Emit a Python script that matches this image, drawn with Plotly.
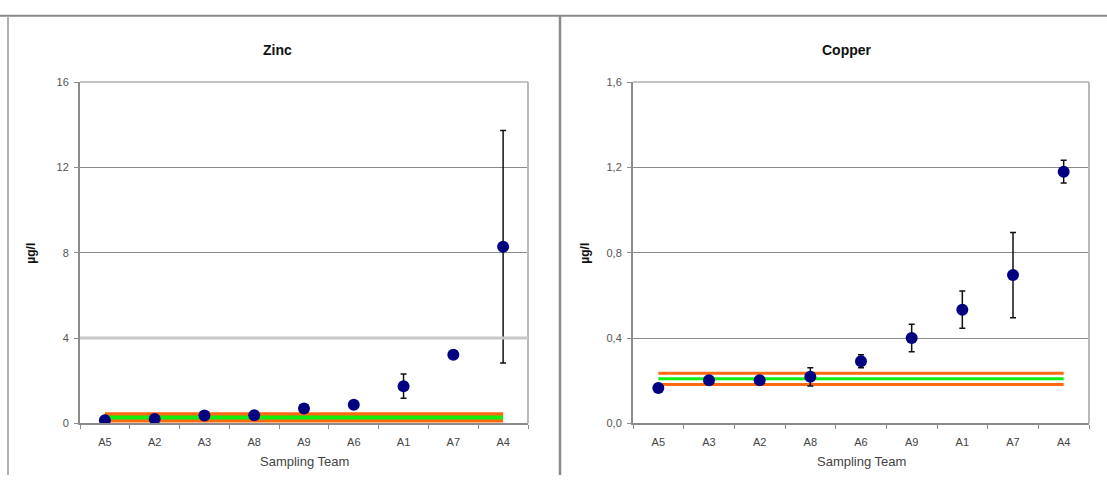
import plotly.graph_objects as go

W, H = 1107, 481

# ---- data ----
zinc_teams = ["A5", "A2", "A3", "A8", "A9", "A6", "A1", "A7", "A4"]
zinc_values = [0.14, 0.2, 0.37, 0.38, 0.7, 0.87, 1.74, 3.22, 8.28]
zinc_errors = [0.0, 0.0, 0.05, 0.05, 0.05, 0.05, 0.57, 0.1, 5.45]
zinc_limits_orange = [0.42, 0.13]
zinc_limit_green = 0.27
zinc_ticks = [0, 4, 8, 12, 16]
zinc_ticktext = ["0", "4", "8", "12", "16"]

copper_teams = ["A5", "A3", "A2", "A8", "A6", "A9", "A1", "A7", "A4"]
copper_values = [0.166, 0.202, 0.202, 0.218, 0.291, 0.40, 0.533, 0.695, 1.18]
copper_errors = [0.01, 0.01, 0.01, 0.043, 0.031, 0.065, 0.087, 0.2, 0.053]
copper_limits_orange = [0.235, 0.182]
copper_limit_green = 0.209
copper_ticks = [0, 0.4, 0.8, 1.2, 1.6]
copper_ticktext = ["0,0", "0,4", "0,8", "1,2", "1,6"]

FONT = "Arial, Liberation Sans, sans-serif"
NAVY = "#000080"
ORANGE = "#ff6a10"
GREEN = "#10ee10"
GRID = "#8a8a8a"
AXIS = "#8c8c8c"


def px_x(p):
    return p / W


def px_y(p):
    return 1 - p / H


fig = go.Figure()

panels = [
    dict(teams=zinc_teams, vals=zinc_values, errs=zinc_errors, orange=zinc_limits_orange,
         green=zinc_limit_green, ticks=zinc_ticks, ticktext=zinc_ticktext,
         xa="x", ya="y", xd=(80, 528), title="Zinc", tx=277, ytx=31, lw=4),
    dict(teams=copper_teams, vals=copper_values, errs=copper_errors, orange=copper_limits_orange,
         green=copper_limit_green, ticks=copper_ticks, ticktext=copper_ticktext,
         xa="x2", ya="y2", xd=(633, 1089), title="Copper", tx=847, ytx=585, lw=3),
]

top_px, bot_px = 78, 428

for i, p in enumerate(panels):
    span = [p["teams"][0], p["teams"][-1]]
    for v in p["orange"]:
        fig.add_trace(go.Scatter(x=span, y=[v, v], mode="lines",
                                 line=dict(color=ORANGE, width=p["lw"]),
                                 xaxis=p["xa"], yaxis=p["ya"], showlegend=False,
                                 hoverinfo="skip"))
    fig.add_trace(go.Scatter(x=span, y=[p["green"], p["green"]], mode="lines",
                             line=dict(color=GREEN, width=p["lw"]),
                             xaxis=p["xa"], yaxis=p["ya"], showlegend=False,
                             hoverinfo="skip"))
    fig.add_trace(go.Scatter(
        x=p["teams"], y=p["vals"], mode="markers",
        marker=dict(color=NAVY, size=12),
        error_y=dict(type="data", array=p["errs"], visible=True, color="#111111",
                     thickness=1.5, width=3),
        xaxis=p["xa"], yaxis=p["ya"], showlegend=False))

    xkey = "xaxis" if i == 0 else "xaxis2"
    ykey = "yaxis" if i == 0 else "yaxis2"
    fig.layout[xkey] = dict(
        domain=[px_x(p["xd"][0]), px_x(p["xd"][1])],
        anchor=p["ya"], type="category",
        categoryorder="array", categoryarray=p["teams"],
        range=[-0.5, len(p["teams"]) - 0.5],
        showline=True, linecolor=AXIS, linewidth=2,
        ticks="outside", tickson="boundaries", ticklen=4, tickcolor=AXIS,
        ticklabelstandoff=7,
        showgrid=False, zeroline=False,
        tickfont=dict(family=FONT, size=11, color="#444444"),
        fixedrange=True,
    )
    fig.layout[ykey] = dict(
        domain=[px_y(bot_px), px_y(top_px)],
        anchor=p["xa"],
        range=[p["ticks"][0], p["ticks"][-1]],
        tickvals=p["ticks"], ticktext=p["ticktext"],
        showline=True, linecolor=AXIS, linewidth=2,
        ticks="outside", ticklen=4, tickcolor=AXIS,
        ticklabelstandoff=3,
        showgrid=True, gridcolor=GRID, gridwidth=1,
        zeroline=False,
        tickfont=dict(family=FONT, size=11, color="#555555"),
        fixedrange=True,
    )
    # plot-area top and right borders (light grey)
    fig.add_shape(type="line", xref="paper", yref="paper",
                  x0=px_x(p["xd"][0]), x1=px_x(p["xd"][1]),
                  y0=px_y(top_px), y1=px_y(top_px),
                  line=dict(color="#c4c4c4", width=2))
    fig.add_shape(type="line", xref="paper", yref="paper",
                  x0=px_x(p["xd"][1]), x1=px_x(p["xd"][1]),
                  y0=px_y(top_px), y1=px_y(bot_px),
                  line=dict(color="#b8b8b8", width=2))
    # titles
    fig.add_annotation(text="<b>" + p["title"] + "</b>", xref="paper", yref="paper",
                       x=px_x(p["tx"]), y=px_y(45), showarrow=False,
                       xanchor="center", yanchor="middle",
                       font=dict(family=FONT, size=14, color="#111111"))
    fig.add_annotation(text="<b>µg/l</b>", xref="paper", yref="paper",
                       x=px_x(p["ytx"]), y=px_y(254), showarrow=False, textangle=-90,
                       xanchor="center", yanchor="middle",
                       font=dict(family=FONT, size=12, color="#111111"))
    fig.add_annotation(text="Sampling Team", xref="paper", yref="paper",
                       x=px_x((p["xd"][0] + p["xd"][1]) / 2), y=px_y(467), showarrow=False,
                       xanchor="center", yanchor="middle",
                       font=dict(family=FONT, size=13, color="#444444"))

# zinc: lighter, heavier gridline at 4
fig.add_shape(type="line", xref="x domain", yref="y", x0=0, x1=1,
              y0=zinc_ticks[1], y1=zinc_ticks[1], line=dict(color="#c8c8c8", width=3))

# outer frames
fig.add_shape(type="line", xref="paper", yref="paper", x0=0, x1=1,
              y0=px_y(10), y1=px_y(10), line=dict(color="#8a8a8a", width=2))
fig.add_shape(type="line", xref="paper", yref="paper", x0=px_x(8), x1=px_x(8),
              y0=px_y(10), y1=0, line=dict(color="#b0b0b0", width=2))
fig.add_shape(type="line", xref="paper", yref="paper", x0=px_x(560), x1=px_x(560),
              y0=px_y(10), y1=0, line=dict(color="#8a8a8a", width=2.5))

fig.update_layout(
    width=W, height=H,
    margin=dict(l=0, r=0, t=0, b=0),
    paper_bgcolor="white", plot_bgcolor="white",
    font=dict(family=FONT),
    showlegend=False,
)

fig.write_html(
    "out.html",
    config={"displayModeBar": False},
    post_script="document.body.style.margin='0';document.body.style.overflow='hidden';",
)
